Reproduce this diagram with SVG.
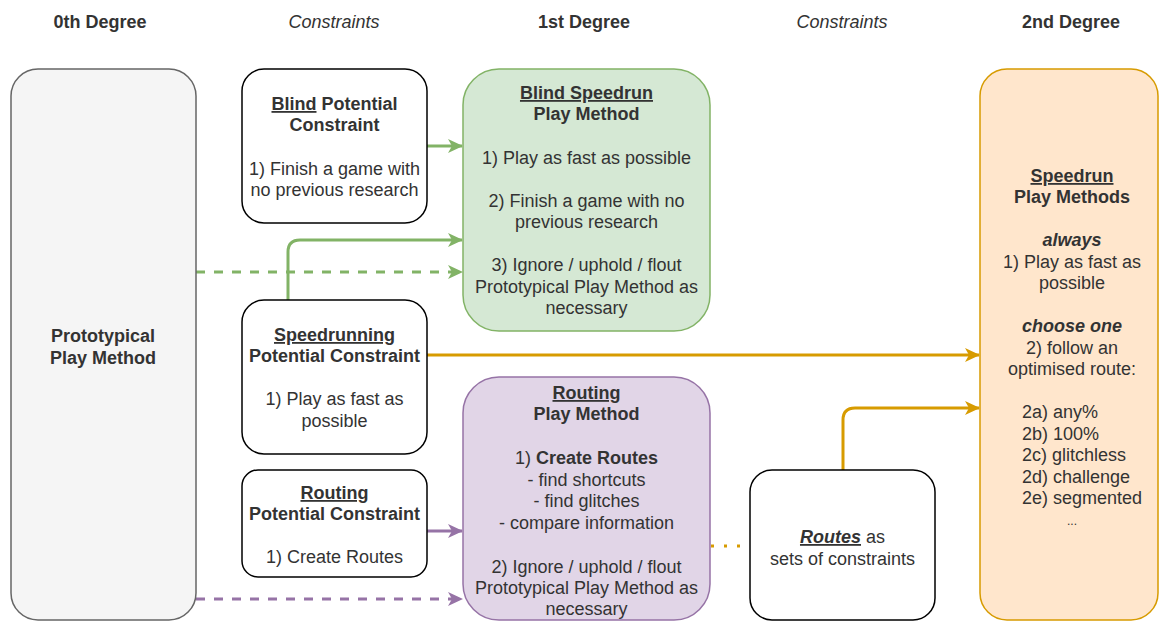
<svg xmlns="http://www.w3.org/2000/svg" width="1160" height="621" viewBox="0 0 1160 621">
<style>
text{font-family:"Liberation Sans",Arial,sans-serif;font-size:18px;fill:#333333;text-anchor:middle}
.b{font-weight:bold}
.i{font-style:italic}
.u{text-decoration:underline}
.node{stroke-width:1.5}
.plain{fill:#ffffff;stroke:#000000}
.conn{fill:none;stroke-width:3}
</style>
<defs>
<marker id="ag" markerWidth="15" markerHeight="14" refX="14" refY="7" orient="auto" markerUnits="userSpaceOnUse" viewBox="0 0 15 14"><path d="M0,0 L15,7 L0,14 L4,7 z" fill="#82b366"/></marker>
<marker id="ap" markerWidth="15" markerHeight="14" refX="14" refY="7" orient="auto" markerUnits="userSpaceOnUse" viewBox="0 0 15 14"><path d="M0,0 L15,7 L0,14 L4,7 z" fill="#9673a6"/></marker>
<marker id="ao" markerWidth="15" markerHeight="14" refX="14" refY="7" orient="auto" markerUnits="userSpaceOnUse" viewBox="0 0 15 14"><path d="M0,0 L15,7 L0,14 L4,7 z" fill="#d79b00"/></marker>
</defs>
<rect width="1160" height="621" fill="#ffffff"/>

<g id="headers">
<text x="100" y="28" class="b">0th Degree</text>
<text x="334" y="28" class="i">Constraints</text>
<text x="584" y="28" class="b">1st Degree</text>
<text x="842" y="28" class="i">Constraints</text>
<text x="1071" y="28" class="b">2nd Degree</text>
</g>

<g id="connectors">
<path class="conn" d="M427,146 L462,146" stroke="#82b366" marker-end="url(#ag)"/>
<path class="conn" d="M288,300 L288,252 Q288,240 300,240 L462,240" stroke="#82b366" marker-end="url(#ag)"/>
<path class="conn" d="M196,272 L462,272" stroke="#82b366" stroke-dasharray="9 9" marker-end="url(#ag)"/>
<path class="conn" d="M427,355 L979,355" stroke="#d79b00" marker-end="url(#ao)"/>
<path class="conn" d="M843,470 L843,420 Q843,408 855,408 L979,408" stroke="#d79b00" marker-end="url(#ao)"/>
<path class="conn" d="M427,531 L462,531" stroke="#9673a6" marker-end="url(#ap)"/>
<path class="conn" d="M196,599 L462,599" stroke="#9673a6" stroke-dasharray="9 9" marker-end="url(#ap)"/>
<path class="conn" d="M711,546 L750,546" stroke="#d79b00" stroke-dasharray="3 10"/>
</g>

<g id="prototypical">
<rect class="node" x="11" y="69" width="185" height="551" rx="27" fill="#f5f5f5" stroke="#666666"/>
<text x="103" y="342" class="b">Prototypical</text>
<text x="103" y="364" class="b">Play Method</text>
</g>

<g id="blind-constraint">
<rect class="node plain" x="242" y="69" width="185" height="154" rx="22"/>
<text x="334.5" y="110" class="b"><tspan class="u">Blind</tspan> Potential</text>
<text x="334.5" y="131" class="b">Constraint</text>
<text x="334.5" y="175">1) Finish a game with</text>
<text x="334.5" y="196">no previous research</text>
</g>

<g id="speedrunning-constraint">
<rect class="node plain" x="242" y="300" width="185" height="154" rx="22"/>
<text x="334.5" y="341" class="b"><tspan class="u">Speedrunning</tspan></text>
<text x="334.5" y="362" class="b">Potential Constraint</text>
<text x="334.5" y="405">1) Play as fast as</text>
<text x="334.5" y="427">possible</text>
</g>

<g id="routing-constraint">
<rect class="node plain" x="242" y="470" width="185" height="107" rx="16"/>
<text x="334.5" y="499" class="b"><tspan class="u">Routing</tspan></text>
<text x="334.5" y="520" class="b">Potential Constraint</text>
<text x="334.5" y="563">1) Create Routes</text>
</g>

<g id="blind-speedrun">
<rect class="node" x="463" y="69" width="247" height="262" rx="36" fill="#d5e8d4" stroke="#82b366"/>
<text x="586.5" y="99" class="b"><tspan class="u">Blind Speedrun</tspan></text>
<text x="586.5" y="120" class="b">Play Method</text>
<text x="586.5" y="164">1) Play as fast as possible</text>
<text x="586.5" y="207">2) Finish a game with no</text>
<text x="586.5" y="228">previous research</text>
<text x="586.5" y="271">3) Ignore / uphold / flout</text>
<text x="586.5" y="293">Prototypical Play Method as</text>
<text x="586.5" y="314">necessary</text>
</g>

<g id="routing-play">
<rect class="node" x="463" y="377" width="247" height="243" rx="36" fill="#e1d5e7" stroke="#9673a6"/>
<text x="586.5" y="399" class="b"><tspan class="u">Routing</tspan></text>
<text x="586.5" y="420" class="b">Play Method</text>
<text x="586.5" y="464">1) <tspan class="b">Create Routes</tspan></text>
<text x="586.5" y="486">- find shortcuts</text>
<text x="586.5" y="507">- find glitches</text>
<text x="586.5" y="529">- compare information</text>
<text x="586.5" y="573">2) Ignore / uphold / flout</text>
<text x="586.5" y="594">Prototypical Play Method as</text>
<text x="586.5" y="615">necessary</text>
</g>

<g id="routes">
<rect class="node plain" x="750" y="470" width="185" height="150" rx="22"/>
<text x="842.5" y="543"><tspan class="b i u">Routes</tspan> as</text>
<text x="842.5" y="565">sets of constraints</text>
</g>

<g id="speedrun-methods">
<rect class="node" x="980" y="69" width="178" height="551" rx="27" fill="#ffe6cc" stroke="#d79b00"/>
<text x="1072" y="182" class="b"><tspan class="u">Speedrun</tspan></text>
<text x="1072" y="203" class="b">Play Methods</text>
<text x="1072" y="246" class="b i">always</text>
<text x="1072" y="268">1) Play as fast as</text>
<text x="1072" y="289">possible</text>
<text x="1072" y="332" class="b i">choose one</text>
<text x="1072" y="354">2) follow an</text>
<text x="1072" y="375">optimised route:</text>
<text x="1022" y="418" style="text-anchor:start">2a) any%</text>
<text x="1022" y="440" style="text-anchor:start">2b) 100%</text>
<text x="1022" y="461" style="text-anchor:start">2c) glitchless</text>
<text x="1022" y="483" style="text-anchor:start">2d) challenge</text>
<text x="1022" y="504" style="text-anchor:start">2e) segmented</text>
<text x="1072" y="525" style="font-size:12px">...</text>
</g>
</svg>
